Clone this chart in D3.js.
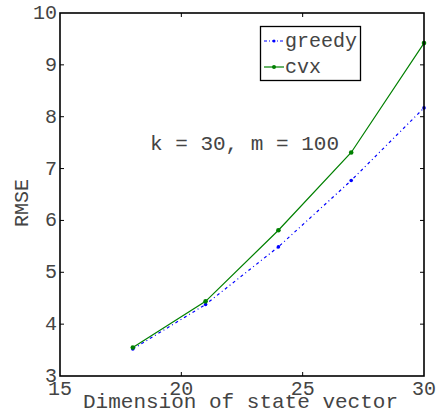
<!DOCTYPE html>
<html>
<head>
<meta charset="utf-8">
<script src="https://cdn.jsdelivr.net/npm/d3@7"></script>
<style>
  body { margin: 0; background: #fff; }
  svg text { font-family: "Liberation Mono", "Courier New", "DejaVu Sans Mono", monospace; fill: #444; }
</style>
</head>
<body>
<svg id="chart" width="438" height="412"></svg>
<script>
// ── 데이터 ─────────────────────────────────────────
const dims      = [18, 21, 24, 27, 30];
const greedy    = [3.52, 4.38, 5.49, 6.77, 8.17];
const cvx       = [3.55, 4.44, 5.81, 7.31, 9.42];
const xTicks    = [15, 20, 25, 30];
const yTicks    = [3, 4, 5, 6, 7, 8, 9, 10];

// ── 레이아웃 ───────────────────────────────────────
const L = 60, R = 424, T = 13, B = 376;
const FONT = 20;

const svg = d3.select("#chart");
const x = d3.scaleLinear().domain([15, 30]).range([L, R]);
const y = d3.scaleLinear().domain([3, 10]).range([B, T]);

// 틱 (안쪽 방향)
const tk = svg.append("g").attr("stroke", "#000").attr("stroke-width", 1);
xTicks.slice(1, -1).forEach(v => {
    tk.append("line").attr("x1", x(v)).attr("x2", x(v)).attr("y1", B).attr("y2", B - 4);
    tk.append("line").attr("x1", x(v)).attr("x2", x(v)).attr("y1", T).attr("y2", T + 4);
});
yTicks.slice(1, -1).forEach(v => {
    tk.append("line").attr("x1", L).attr("x2", L + 4).attr("y1", y(v)).attr("y2", y(v));
    tk.append("line").attr("x1", R).attr("x2", R - 4).attr("y1", y(v)).attr("y2", y(v));
});

// 틱 라벨
svg.append("g").selectAll("text").data(xTicks).join("text")
    .attr("x", d => x(d)).attr("y", 395)
    .attr("text-anchor", "middle").attr("font-size", FONT)
    .text(d => d);
svg.append("g").selectAll("text").data(yTicks).join("text")
    .attr("x", L - 3).attr("y", d => y(d) + 6)
    .attr("text-anchor", "end").attr("font-size", FONT)
    .text(d => d);

// 축 제목
svg.append("text").attr("x", 240.5).attr("y", 408)
    .attr("text-anchor", "middle").attr("font-size", 21)
    .text("Dimension of state vector");
svg.append("text")
    .attr("transform", `translate(28, 203) rotate(-90)`)
    .attr("text-anchor", "middle").attr("font-size", FONT)
    .text("RMSE");

// 라인
const line = d3.line().x((d, i) => x(dims[i])).y(d => y(d));
svg.append("path").datum(greedy).attr("d", line)
    .attr("fill", "none").attr("stroke", "#0000ff").attr("stroke-width", 1.2)
    .attr("stroke-dasharray", "3,3,1,3");
svg.append("g").selectAll("circle").data(greedy).join("circle")
    .attr("cx", (d, i) => x(dims[i])).attr("cy", d => y(d)).attr("r", 1.8)
    .attr("fill", "#0000ff");

svg.append("path").datum(cvx).attr("d", line)
    .attr("fill", "none").attr("stroke", "#008000").attr("stroke-width", 1.2);
svg.append("g").selectAll("circle").data(cvx).join("circle")
    .attr("cx", (d, i) => x(dims[i])).attr("cy", d => y(d)).attr("r", 2.3)
    .attr("fill", "#008000");

// 플롯 테두리
svg.append("rect").attr("x", L).attr("y", T).attr("width", R - L).attr("height", B - T)
    .attr("fill", "none").attr("stroke", "#000").attr("stroke-width", 1.6);

// 주석
svg.append("text").attr("x", 150).attr("y", 150).attr("font-size", 21)
    .text("k = 30, m = 100");

// ── 범례 ───────────────────────────────────────────
const lg = svg.append("g");
lg.append("rect").attr("x", 260.5).attr("y", 26.5).attr("width", 100).attr("height", 54)
    .attr("fill", "#fff").attr("stroke", "#000").attr("stroke-width", 1.3);
lg.append("line").attr("x1", 264).attr("x2", 284).attr("y1", 41).attr("y2", 41)
    .attr("stroke", "#0000ff").attr("stroke-width", 1.2).attr("stroke-dasharray", "3,2,1,2");
lg.append("circle").attr("cx", 274).attr("cy", 41).attr("r", 1.5).attr("fill", "#0000ff");
lg.append("text").attr("x", 285).attr("y", 47).attr("font-size", FONT).text("greedy");
lg.append("line").attr("x1", 264).attr("x2", 284).attr("y1", 67).attr("y2", 67)
    .attr("stroke", "#008000").attr("stroke-width", 1.2);
lg.append("circle").attr("cx", 274).attr("cy", 67).attr("r", 2).attr("fill", "#008000");
lg.append("text").attr("x", 285).attr("y", 73).attr("font-size", FONT).text("cvx");
</script>
</body>
</html>
